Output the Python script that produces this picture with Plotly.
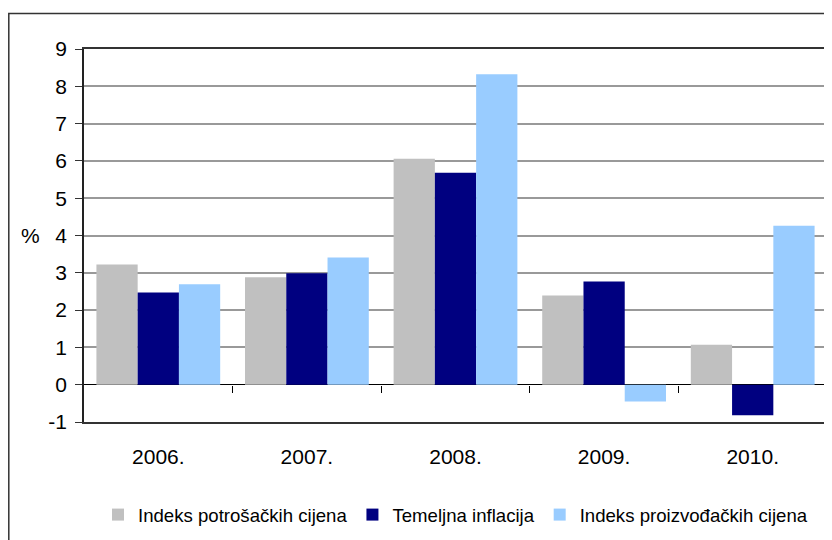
import plotly.graph_objects as go

years = ["2006.", "2007.", "2008.", "2009.", "2010."]
cpi = [3.22, 2.88, 6.06, 2.39, 1.07]
core = [2.47, 2.99, 5.68, 2.77, -0.82]
ppi = [2.69, 3.41, 8.32, -0.45, 4.26]
series_names = ["Indeks potrošačkih cijena", "Temeljna inflacija", "Indeks proizvođačkih cijena"]
colors = ["#C0C0C0", "#000080", "#99CCFF"]
yticks = list(range(-1, 10))

# page body adds an 8px offset; lay out in reference pixel coords minus 8
OFF = 8
W, H = 832 - OFF, 540 - OFF
L, R, T, B = 84 - OFF, 5, 49 - OFF, 540 - 422
pw, ph = W - L - R, H - T - B

def px_x(px):
    return (px - OFF - L) / pw

def px_y(py):
    return (H - B - (py - OFF)) / ph

xs = list(range(len(years)))
fig = go.Figure()
for name, vals, col in zip(series_names, [cpi, core, ppi], colors):
    fig.add_trace(go.Bar(x=xs, y=vals, name=name, marker=dict(color=col, line=dict(width=0))))
fig.add_trace(go.Scatter(x=[], y=[], xaxis="x2", showlegend=False, hoverinfo="skip"))

font = "Liberation Sans, Arial, sans-serif"
fig.update_layout(
    width=W, height=H, autosize=False,
    margin=dict(l=L, r=R, t=T, b=B, autoexpand=False),
    paper_bgcolor="white", plot_bgcolor="white",
    barmode="group", bargap=0.167, bargroupgap=0,
    font=dict(family=font, size=21, color="black"),
    xaxis=dict(
        range=[-0.5, len(years) - 0.5], tickvals=xs, ticktext=years,
        showgrid=False, zeroline=False, showline=True, mirror=True,
        linecolor="#333", linewidth=1.5, ticks="", ticklabelstandoff=15,
        tickfont=dict(size=21),
    ),
    xaxis2=dict(
        overlaying="x", anchor="free", position=0.1, side="bottom",
        range=[-0.5, len(years) - 0.5],
        tickvals=[i + 0.5 for i in xs[:-1]], showticklabels=False,
        ticks="outside", ticklen=7, tickcolor="black", tickwidth=1,
        showgrid=False, zeroline=False, showline=False,
    ),
    yaxis=dict(
        range=[-1, 9], tickvals=yticks, ticktext=[str(v) for v in yticks],
        showgrid=True, gridcolor="#999", gridwidth=1.5,
        zeroline=True, zerolinecolor="black", zerolinewidth=1.2,
        showline=True, mirror=True, linecolor="#222", linewidth=1.5,
        ticks="outside", ticklen=7, tickcolor="#333", ticklabelstandoff=4,
        tickfont=dict(size=21),
    ),
    legend=dict(
        orientation="h", x=px_x(98), xanchor="left", y=px_y(515), yanchor="middle",
        font=dict(size=18.6), bgcolor="rgba(0,0,0,0)", itemwidth=30,
        traceorder="normal",
    ),
    showlegend=True,
)
fig.add_annotation(text="%", xref="paper", yref="y", x=px_x(30), y=4,
                   showarrow=False, font=dict(size=21), xanchor="center", yanchor="middle")
fig.add_shape(type="rect", xref="paper", yref="paper",
              x0=px_x(8.8), x1=px_x(845), y0=px_y(560), y1=px_y(13.5),
              line=dict(color="#333", width=1.5), fillcolor="rgba(0,0,0,0)", layer="below")

fig.write_html("out.html")
